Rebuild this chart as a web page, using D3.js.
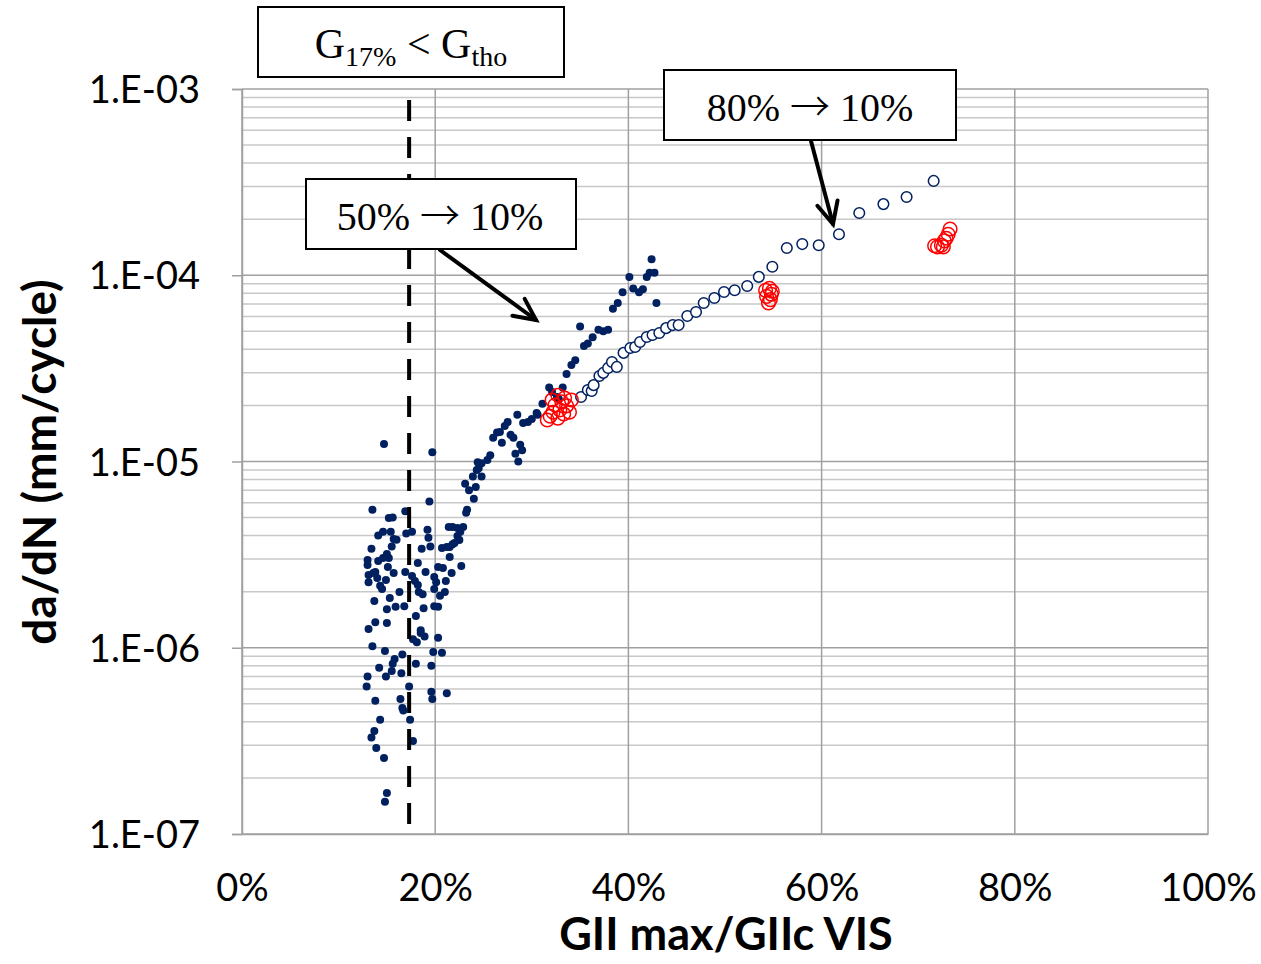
<!DOCTYPE html>
<html><head><meta charset="utf-8">
<script src="https://cdn.jsdelivr.net/npm/d3@7"></script>
<style>
html,body{margin:0;padding:0;background:#fff;}
svg{display:block;}
</style></head>
<body>
<script>
// ---- data ----
const xTicks = [0, 20, 40, 60, 80, 100];
const yTicks = [1e-3, 1e-4, 1e-5, 1e-6, 1e-7];
const yTickLabels = ["1.E-03", "1.E-04", "1.E-05", "1.E-06", "1.E-07"];
const thresholdX = 17.3;

// 50% -> 10% (filled navy dots): [GII max/GIIc %, da/dN]
const filled = [
[14.7,1.24e-5],[19.7,1.12e-5],[19.4,6.1e-6],[13.5,5.5e-6],[16.9,5.4e-6],[15.2,4.97e-6],[15.6,5.0e-6],
[19.2,4.3e-6],[14.6,4.2e-6],[14.1,4.0e-6],[15.4,4.2e-6],[17.6,4.2e-6],[17.0,4.1e-6],[15.7,3.84e-6],
[16.0,3.8e-6],[19.3,3.9e-6],[15.5,3.5e-6],[13.4,3.4e-6],[18.6,3.4e-6],[19.5,3.5e-6],[13.0,2.96e-6],
[13.0,2.78e-6],[14.1,2.92e-6],[14.6,3.03e-6],[15.0,3.19e-6],[15.2,3.03e-6],[18.2,2.85e-6],[15.1,2.71e-6],
[15.7,2.52e-6],[16.9,2.55e-6],[17.6,2.43e-6],[19.0,2.55e-6],[20.3,2.71e-6],[20.8,2.68e-6],[13.1,2.46e-6],
[13.6,2.52e-6],[13.8,2.55e-6],[14.0,2.37e-6],[14.9,2.31e-6],[13.1,2.25e-6],[14.3,2.15e-6],[14.5,2.07e-6],
[17.9,2.28e-6],[18.2,2.17e-6],[19.9,2.4e-6],[20.1,2.25e-6],[21.1,2.28e-6],[18.3,1.99e-6],[18.7,1.94e-6],
[19.9,2.07e-6],[16.3,1.99e-6],[15.3,1.85e-6],[13.7,1.78e-6],[21.0,1.99e-6],[20.5,1.9e-6],[15.0,1.61e-6],
[15.9,1.66e-6],[16.8,1.67e-6],[18.8,1.63e-6],[19.9,1.67e-6],[20.3,1.66e-6],[18.0,1.48e-6],[13.8,1.37e-6],
[15.0,1.36e-6],[13.1,1.26e-6],[18.5,1.24e-6],
[24.4,9.9e-6],[24.3,9.0e-6],[23.9,8.3e-6],[23.1,7.6e-6],[23.5,7.0e-6],[24.2,7.3e-6],[24.0,6.3e-6],
[23.3,5.5e-6],[23.2,5.3e-6],[21.4,4.45e-6],[21.8,4.45e-6],[22.3,4.4e-6],[22.9,4.45e-6],[22.6,4.2e-6],
[22.3,3.98e-6],[22.5,3.79e-6],[22.0,3.65e-6],[20.7,3.43e-6],[21.2,3.47e-6],[21.5,3.47e-6],[21.8,3.6e-6],
[21.5,3.07e-6],[22.7,2.75e-6],[21.7,2.52e-6],
[18.5,1.2e-6],[18.9,1.15e-6],[18.1,1.07e-6],[17.7,1.11e-6],[20.3,1.13e-6],[13.5,1.02e-6],
[14.8,9.6e-7],[16.6,9.2e-7],[19.8,9.5e-7],[20.7,9.4e-7],[15.8,8.7e-7],[15.6,8.2e-7],[18.0,8.2e-7],
[19.6,8.0e-7],[14.2,7.8e-7],[15.5,7.5e-7],[16.5,7.3e-7],[14.9,7.0e-7],[13.0,7.0e-7],[12.9,6.2e-7],
[17.3,6.2e-7],[19.6,5.8e-7],[19.7,5.3e-7],[21.2,5.7e-7],[16.4,5.3e-7],[13.8,5.2e-7],[16.6,4.75e-7],
[16.7,4.6e-7],[17.4,4.1e-7],[14.3,4.1e-7],[13.7,3.57e-7],[13.4,3.3e-7],[17.7,3.16e-7],[13.9,2.9e-7],
[14.7,2.56e-7],[15.0,1.66e-7],[14.8,1.49e-7],
[42.4,1.22e-4],[42.2,1.03e-4],[42.7,1.03e-4],[41.9,9.8e-5],[40.1,9.8e-5],[40.5,8.5e-5],[41.1,8.1e-5],
[41.5,8.4e-5],[39.4,8.1e-5],[42.9,7.1e-5],[38.9,7.1e-5],[38.4,6.6e-5],[35.0,5.3e-5],[37.9,5.1e-5],
[37.4,5.0e-5],[36.9,5.1e-5],[36.3,4.65e-5],[35.8,4.3e-5],[35.4,4.17e-5],[34.5,3.5e-5],[34.1,3.3e-5],
[33.6,2.95e-5],[31.8,2.5e-5],[32.1,2.36e-5],[32.6,2.22e-5],[32.8,2.16e-5],[31.1,2.04e-5],[30.5,1.82e-5],
[30.6,1.78e-5],[28.5,1.78e-5],[29.1,1.61e-5],[29.6,1.63e-5],[30.0,1.69e-5],[27.5,1.63e-5],[27.2,1.55e-5],
[26.7,1.44e-5],[26.4,1.43e-5],[26.0,1.34e-5],[26.9,1.26e-5],[27.8,1.39e-5],[28.1,1.34e-5],[28.8,1.23e-5],
[29.0,1.15e-5],[28.3,1.1e-5],[28.6,1.0e-5],[25.7,1.08e-5],[25.4,1.02e-5],[24.8,9.8e-6],[24.5,9.2e-6],
[24.8,8.3e-6],[33.2,2.5e-5]
];

// 80% -> 10% (open navy circles)
const openPts = [
[35.1,2.22e-5],[35.8,2.42e-5],[36.2,2.39e-5],[36.4,2.57e-5],[37.0,2.88e-5],[37.4,2.99e-5],[37.9,3.18e-5],
[38.3,3.42e-5],[38.8,3.22e-5],[39.5,3.83e-5],[40.2,4.07e-5],[40.7,4.12e-5],[41.2,4.38e-5],[41.9,4.66e-5],
[42.5,4.78e-5],[43.2,4.9e-5],[43.9,5.2e-5],[44.6,5.4e-5],[45.2,5.4e-5],[46.1,6.04e-5],[47.0,6.35e-5],
[47.8,7.1e-5],[48.9,7.55e-5],[49.9,8.13e-5],[51.0,8.3e-5],[52.3,8.75e-5],[53.5,9.8e-5],[54.9,1.11e-4],
[56.4,1.4e-4],[58.0,1.47e-4],[59.7,1.45e-4],[61.8,1.66e-4],[63.9,2.16e-4],[66.4,2.41e-4],[68.8,2.63e-4],
[71.6,3.21e-4]
];

// red open circles
const redPts = [
[31.6,1.67e-5],[31.9,1.75e-5],[32.2,1.84e-5],[32.4,2.01e-5],[32.7,1.71e-5],[32.9,1.89e-5],[33.1,2.09e-5],
[33.4,2.19e-5],[33.6,1.99e-5],[33.9,1.84e-5],[34.1,2.14e-5],[33.3,1.8e-5],[32.1,2.14e-5],[32.7,2.27e-5],
[54.2,8.3e-5],[54.6,8.5e-5],[54.9,8.2e-5],[54.3,7.7e-5],[54.7,7.4e-5],[54.5,7.1e-5],[54.8,7.9e-5],
[71.7,1.44e-4],[72.0,1.42e-4],[72.4,1.45e-4],[72.7,1.53e-4],[72.9,1.58e-4],[73.1,1.66e-4],[73.3,1.77e-4],
[72.6,1.42e-4]
];

// ---- layout ----
const W = 1261, H = 964;
const L = 242, R = 1208, T = 89, B = 834;
const NAVY = "#002060";
const sans = "Lato,'Open Sans',sans-serif";
const serif = "'Liberation Serif','Times New Roman',serif";

const svg = d3.select("body").append("svg").attr("width", W).attr("height", H);
const x = d3.scaleLinear().domain([0, 100]).range([L, R]);
const y = d3.scaleLog().domain([1e-7, 1e-3]).range([B, T]);

// minor horizontal grid
const minor = [];
for (let e = -7; e < -3; e++) for (let m = 2; m <= 9; m++) minor.push(m * Math.pow(10, e));
svg.append("g").selectAll("line").data(minor).join("line")
  .attr("x1", L).attr("x2", R).attr("y1", d => y(d)).attr("y2", d => y(d))
  .attr("stroke", "#c8c8c8").attr("stroke-width", 1.5);

// vertical major grid
svg.append("g").selectAll("line").data(xTicks).join("line")
  .attr("x1", d => x(d)).attr("x2", d => x(d)).attr("y1", T).attr("y2", B)
  .attr("stroke", "#a0a0a0").attr("stroke-width", 1.5);

// y axis with major grid
const yAxis = d3.axisLeft(y).tickValues(yTicks).tickSize(10)
  .tickFormat((d, i) => yTickLabels[i]);
const gy = svg.append("g").attr("transform", `translate(${L},0)`).call(yAxis);
gy.select(".domain").attr("stroke", "#a0a0a0").attr("stroke-width", 1.5);
gy.selectAll(".tick line").attr("stroke", "#a0a0a0").attr("stroke-width", 1.5);
gy.selectAll(".tick text").attr("font-family", sans).attr("font-size", 38)
  .attr("fill", "#000").attr("x", -42).attr("dy", "0.36em");
svg.append("g").selectAll("line").data(yTicks).join("line")
  .attr("x1", L).attr("x2", R).attr("y1", d => y(d)).attr("y2", d => y(d))
  .attr("stroke", "#a0a0a0").attr("stroke-width", 1.5);

// x axis
const xAxis = d3.axisBottom(x).tickValues(xTicks).tickSize(0).tickFormat(d => d + "%");
const gx = svg.append("g").attr("transform", `translate(0,${B})`).call(xAxis);
gx.select(".domain").attr("stroke", "#a0a0a0").attr("stroke-width", 1.5);
gx.selectAll(".tick text").attr("font-family", sans).attr("font-size", 38)
  .attr("fill", "#000").attr("y", 40).attr("dy", "0.71em");

// points
svg.append("g").selectAll("circle").data(filled).join("circle")
  .attr("cx", d => x(d[0])).attr("cy", d => y(d[1])).attr("r", 4).attr("fill", NAVY);

// threshold dashed line
svg.append("line").attr("x1", x(thresholdX)).attr("x2", x(thresholdX)).attr("y1", 100).attr("y2", B)
  .attr("stroke", "#000").attr("stroke-width", 4).attr("stroke-dasharray", "21 16");

svg.append("g").selectAll("circle").data(openPts).join("circle")
  .attr("cx", d => x(d[0])).attr("cy", d => y(d[1])).attr("r", 5.3)
  .attr("fill", "#fff").attr("stroke", NAVY).attr("stroke-width", 1.5);
svg.append("g").selectAll("circle").data(redPts).join("circle")
  .attr("cx", d => x(d[0])).attr("cy", d => y(d[1])).attr("r", 6.8)
  .attr("fill", "none").attr("stroke", "#ff0000").attr("stroke-width", 1.5);

// axis titles
svg.append("text").attr("x", 726).attr("y", 950).attr("text-anchor", "middle")
  .attr("font-family", sans).attr("font-weight", "bold")
  .attr("font-size", 45).text("GII max/GIIc VIS");
svg.append("text").attr("transform", "translate(56,462) rotate(-90)").attr("text-anchor", "middle")
  .attr("font-family", sans).attr("font-weight", "bold")
  .attr("font-size", 46).text("da/dN (mm/cycle)");

// annotation boxes
function box(x0, y0, w, h) {
  svg.append("rect").attr("x", x0).attr("y", y0).attr("width", w).attr("height", h)
    .attr("fill", "#fff").attr("stroke", "#000").attr("stroke-width", 2);
}
function arrowLabel(cx, cy, a, b) {
  const t = svg.append("text").attr("x", cx).attr("y", cy).attr("text-anchor", "middle")
    .attr("font-family", serif).attr("font-size", 40);
  t.append("tspan").text(a + " ");
  t.append("tspan").attr("font-family", "'Noto Sans CJK JP',sans-serif").attr("font-weight", 300).text("\u2192");
  t.append("tspan").text(" " + b);
}
box(258, 7, 306, 70);
const t1 = svg.append("text").attr("x", 411).attr("y", 58).attr("text-anchor", "middle")
  .attr("font-family", serif).attr("font-size", 42);
t1.append("tspan").text("G");
t1.append("tspan").attr("font-size", 28).attr("dy", 8).text("17%");
t1.append("tspan").attr("dy", -8).text(" < G");
t1.append("tspan").attr("font-size", 28).attr("dy", 8).text("tho");

box(306, 179, 270, 70);
arrowLabel(440, 230, "50%", "10%");
box(664, 70, 292, 70);
arrowLabel(810, 121, "80%", "10%");

// arrows
function arrow(x1, y1, x2, y2) {
  const g = svg.append("g").attr("stroke", "#000").attr("stroke-width", 4)
    .attr("stroke-linecap", "round").attr("fill", "none");
  g.append("line").attr("x1", x1).attr("y1", y1).attr("x2", x2).attr("y2", y2);
  const a = Math.atan2(y2 - y1, x2 - x1), len = 24, sp = 0.45;
  g.append("path").attr("d",
    `M${x2 - len * Math.cos(a - sp)},${y2 - len * Math.sin(a - sp)}L${x2},${y2}L${x2 - len * Math.cos(a + sp)},${y2 - len * Math.sin(a + sp)}`)
    .attr("stroke-linejoin", "miter");
}
arrow(440, 250, 536, 320);
arrow(811, 141, 833, 224);
</script>
</body></html>
